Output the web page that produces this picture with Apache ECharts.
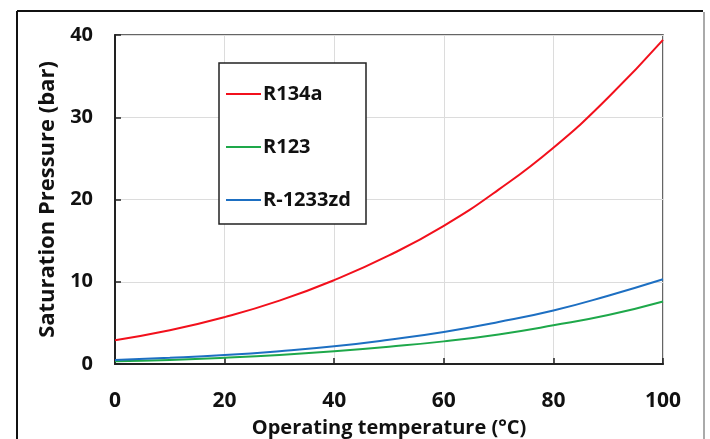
<!DOCTYPE html>
<html>
<head>
<meta charset="utf-8">
<script src="https://cdn.jsdelivr.net/npm/echarts@6/dist/echarts.min.js"></script>
<style>
  html, body { margin: 0; padding: 0; background: #fff; }
  #chart { width: 710px; height: 439px; }
</style>
</head>
<body>
<div id="chart"></div>
<script>
// operating temperature (°C)
const temps = [0, 10, 20, 30, 40, 50, 60, 70, 80, 90, 100]
// saturation pressure (bar)
const r134a = [2.9, 4.1, 5.7, 7.7, 10.2, 13.2, 16.8, 21.2, 26.3, 32.4, 39.4]
const r123 = [0.33, 0.5, 0.76, 1.1, 1.55, 2.1, 2.75, 3.6, 4.7, 5.95, 7.6]
const r1233zd = [0.5, 0.75, 1.08, 1.55, 2.15, 2.95, 3.9, 5.1, 6.5, 8.3, 10.3]

const font = '"Open Sans", sans-serif'
const chart = echarts.init(document.getElementById('chart'))

function pairs(values) {
  return temps.map((t, i) => [t, values[i]])
}

function lineSeries(name, values, color) {
  return {
    name: name,
    type: 'line',
    smooth: true,
    symbol: 'none',
    data: pairs(values),
    lineStyle: { color: color, width: 2 },
    itemStyle: { color: color }
  }
}

chart.setOption({
  animation: false,
  backgroundColor: '#fff',
  textStyle: { fontFamily: font },
  grid: {
    left: 115,
    right: 47,
    top: 35,
    bottom: 75,
    outerBoundsMode: 'none',
    show: true,
    borderColor: '#333',
    borderWidth: 1.5
  },
  graphic: [
    { type: 'line', shape: { x1: 17, y1: 11, x2: 703, y2: 11 }, style: { stroke: '#111', lineWidth: 2 } },
    { type: 'line', shape: { x1: 17, y1: 11, x2: 17, y2: 439 }, style: { stroke: '#111', lineWidth: 2 } },
    { type: 'line', shape: { x1: 704, y1: 12, x2: 704, y2: 439 }, style: { stroke: '#aaa', lineWidth: 2 } },
    { type: 'rect', shape: { x: 219, y: 63, width: 147, height: 161 }, style: { fill: '#fff', stroke: '#222', lineWidth: 1.5 }, z: 10 }
  ],
  legend: {
    orient: 'vertical',
    left: 219,
    top: 63,
    padding: [21, 10, 18, 7],
    itemGap: 33,
    itemWidth: 35,
    itemHeight: 2,
    icon: 'rect',
    z: 20,
    textStyle: { fontFamily: font, fontWeight: 'bold', fontSize: 20, lineHeight: 20, color: '#111', padding: [0, 0, 0, -3] },
    data: ['R134a', 'R123', 'R-1233zd']
  },
  xAxis: {
    type: 'value',
    min: 0,
    max: 100,
    interval: 20,
    name: 'Operating temperature (°C)',
    nameLocation: 'middle',
    nameGap: 54,
    nameTextStyle: { fontFamily: font, fontWeight: 'bold', fontSize: 20, color: '#111' },
    axisLine: { lineStyle: { color: '#222', width: 2 } },
    axisTick: { show: true, inside: true, length: 6, lineStyle: { color: '#222', width: 1.5 } },
    axisLabel: { fontFamily: font, fontWeight: 'bold', fontSize: 21, color: '#111', margin: 27 },
    splitLine: { show: true, lineStyle: { color: '#dcdcdc', width: 1 } }
  },
  yAxis: {
    type: 'value',
    min: 0,
    max: 40,
    interval: 10,
    name: 'Saturation Pressure (bar)',
    nameLocation: 'middle',
    nameGap: 56,
    nameTextStyle: { fontFamily: font, fontWeight: 'bold', fontSize: 22, color: '#111' },
    axisLine: { show: true, lineStyle: { color: '#222', width: 2 } },
    axisTick: { show: true, inside: true, length: 6, lineStyle: { color: '#222', width: 1.5 } },
    axisLabel: { fontFamily: font, fontWeight: 'bold', fontSize: 20, color: '#111', margin: 22 },
    splitLine: { show: true, lineStyle: { color: '#dcdcdc', width: 1 } }
  },
  series: [
    lineSeries('R134a', r134a, '#f2101c'),
    lineSeries('R123', r123, '#1ea84a'),
    lineSeries('R-1233zd', r1233zd, '#1d6fc2')
  ]
})
</script>
</body>
</html>
